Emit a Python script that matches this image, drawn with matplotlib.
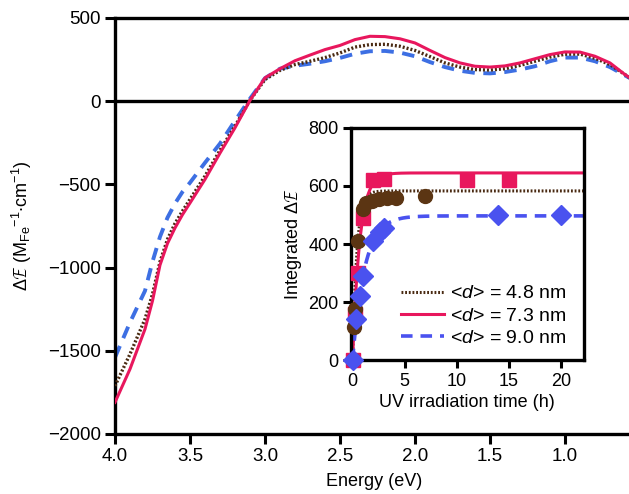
import numpy as np
import matplotlib
matplotlib.use("Agg")
import matplotlib.pyplot as plt

plt.rcParams['font.family'] = ['Liberation Sans', 'DejaVu Sans']
plt.rcParams['mathtext.fontset'] = 'custom'
plt.rcParams['mathtext.rm'] = 'Liberation Sans'
plt.rcParams['mathtext.it'] = 'Liberation Sans:italic'

# main CD spectra
energy = [4.0, 3.9, 3.8, 3.75, 3.7, 3.65, 3.6, 3.55, 3.5, 3.4, 3.3, 3.2, 3.1,
          3.0, 2.9, 2.8, 2.7, 2.6, 2.5, 2.4, 2.3, 2.2, 2.1, 2.0, 1.9, 1.8, 1.7,
          1.6, 1.5, 1.4, 1.3, 1.2, 1.1, 1.0, 0.9, 0.8, 0.7, 0.6, 0.55]
de_48 = [-1711, -1520, -1310, -1160, -965, -830, -735, -660, -590, -450, -295,
         -150, 5, 130, 185, 220, 240, 262, 290, 325, 340, 342, 330, 305, 268,
         230, 205, 190, 187, 195, 215, 240, 265, 282, 283, 258, 220, 160, 130]
de_73 = [-1810, -1610, -1370, -1200, -985, -855, -762, -682, -612, -470, -312,
         -160, 5, 140, 195, 243, 277, 310, 335, 370, 390, 388, 375, 350, 305,
         262, 230, 210, 205, 212, 230, 255, 280, 296, 295, 270, 230, 160, 130]
de_90 = [-1540, -1330, -1140, -965, -815, -700, -615, -545, -490, -370, -255,
         -118, 15, 138, 195, 213, 225, 240, 260, 285, 300, 302, 292, 270, 235,
         205, 183, 170, 167, 175, 190, 210, 240, 262, 262, 240, 205, 155, 130]

# inset: integrated dE vs UV time
t_48 = [0, 0.17, 0.25, 0.5, 1, 1.33, 1.83, 2.5, 3.33, 4.17, 7]
v_48 = [0, 115, 175, 410, 520, 540, 550, 555, 558, 560, 565]
t_73 = [0, 0.25, 0.5, 1, 2, 3, 11, 15]
v_73 = [0, 160, 300, 490, 620, 625, 620, 620]
t_90 = [0, 0.33, 0.67, 1, 2, 2.67, 3, 14, 20]
v_90 = [0, 140, 220, 290, 410, 440, 455, 500, 500]

# fit parameters (plateau, rate)
fit_48 = (583, 2.4)
fit_73 = (645, 1.45)
fit_90 = (497, 0.87)

labels = [r'<$\it{d}$> = 4.8 nm', r'<$\it{d}$> = 7.3 nm', r'<$\it{d}$> = 9.0 nm']
c_brown = '#4a2a12'
c_pink = '#e8175d'
c_blue_line = '#3d6fe3'
c_blue_mk = '#4a52ef'
c_brown_mk = '#5b3513'

fig = plt.figure(figsize=(6.29, 4.94), dpi=100)
ax = fig.add_axes([0.1828, 0.1215, 0.8227, 0.8421])

ax.axhline(0, color='black', lw=2.4, zorder=1)
ax.plot(energy, de_90, color=c_blue_line, lw=2.8, dashes=(3.2, 2.2), zorder=2)
ax.plot(energy, de_48, color=c_brown, lw=2.4, linestyle=(0, (0.6, 0.6)), zorder=3)
ax.plot(energy, de_73, color=c_pink, lw=2.2, zorder=4)

ax.set_xlim(4.0, 0.55)
ax.set_ylim(-2000, 500)
ax.set_xticks([4.0, 3.5, 3.0, 2.5, 2.0, 1.5, 1.0])
ax.set_xticklabels(['4.0', '3.5', '3.0', '2.5', '2.0', '1.5', '1.0'])
ax.set_yticks([500, 0, -500, -1000, -1500, -2000])
ax.set_yticklabels(['500', '0', '\u2212500', '\u22121000', '\u22121500', '\u22122000'])
for s in ['left', 'bottom', 'top']:
    ax.spines[s].set_linewidth(2.4)
ax.spines['right'].set_visible(False)
ax.tick_params(width=2.2, length=7, labelsize=13.5, pad=3)
ax.set_xlabel('Energy (eV)', fontsize=13, labelpad=6)
ax.set_ylabel(r'$\Delta\mathcal{E}$ (M$_{\rm Fe}$$^{-1}$$\bullet$cm$^{-1}$)',
              fontsize=13, labelpad=10)

# inset
ins = fig.add_axes([0.558, 0.271, 0.370, 0.470])
ins.set_facecolor('white')
tt = np.linspace(0, 22.5, 300)
l1, = ins.plot(tt, fit_48[0] * (1 - np.exp(-fit_48[1] * tt)), color=c_brown,
               lw=2.2, linestyle=(0, (0.6, 0.6)), zorder=2)
l2, = ins.plot(tt, fit_73[0] * (1 - np.exp(-fit_73[1] * tt)), color=c_pink,
               lw=2.2, zorder=2)
l3, = ins.plot(tt, fit_90[0] * (1 - np.exp(-fit_90[1] * tt)), color=c_blue_mk,
               lw=2.6, dashes=(3.2, 2.2), zorder=2)
ins.plot(t_73, v_73, 's', color=c_pink, ms=10, zorder=3, clip_on=False)
ins.plot(t_48, v_48, 'o', color=c_brown_mk, ms=10, zorder=4, clip_on=False)
ins.plot(t_90, v_90, 'D', color=c_blue_mk, ms=10, zorder=5, clip_on=False)

ins.set_xlim(-0.15, 22.2)
ins.set_ylim(0, 800)
ins.set_xticks([0, 5, 10, 15, 20])
ins.set_yticks([0, 200, 400, 600, 800])
for s in ins.spines.values():
    s.set_linewidth(2.4)
ins.tick_params(width=2.2, length=6, labelsize=13, pad=3)
ins.set_xlabel('UV irradiation time (h)', fontsize=13, labelpad=3)
ins.set_ylabel(r'Integrated $\Delta\mathcal{E}$', fontsize=13, labelpad=3)
ins.legend([l1, l2, l3], labels, loc='lower right', frameon=False, fontsize=14,
           handlelength=2.2, handletextpad=0.3, labelspacing=0.25,
           bbox_to_anchor=(1.0, -0.02))

fig.savefig('out.png', dpi=100)
